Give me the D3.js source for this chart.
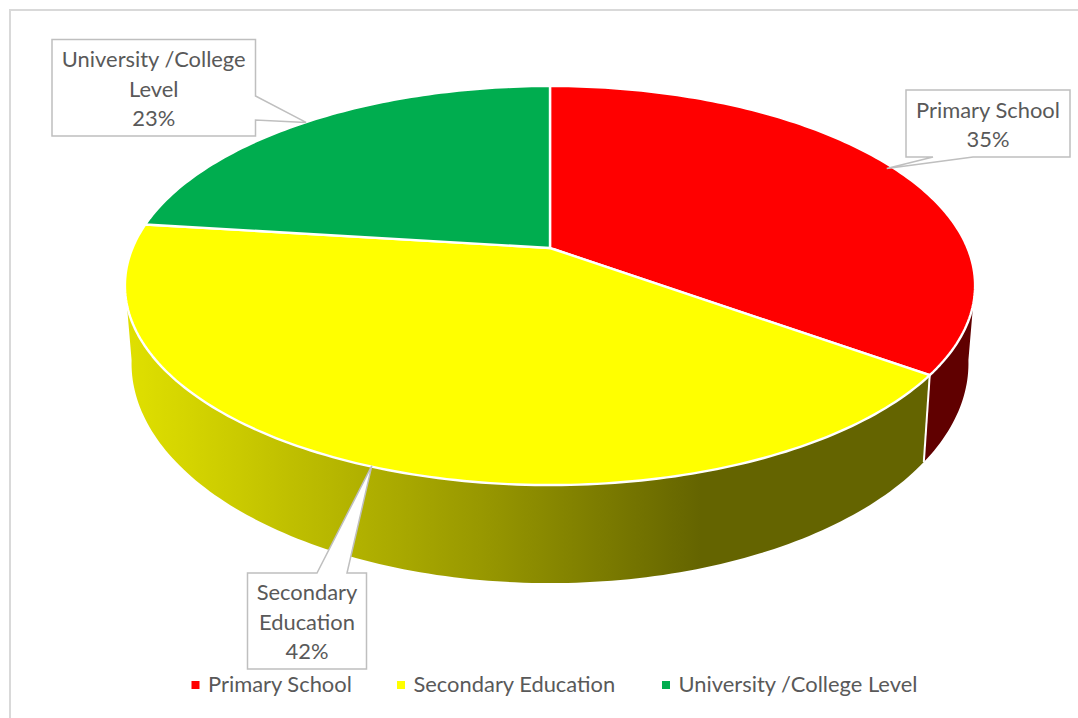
<!DOCTYPE html>
<html>
<head>
<meta charset="utf-8">
<script src="https://cdn.jsdelivr.net/npm/d3@7"></script>
<style>
html,body{margin:0;padding:0;background:#fff;}
svg{display:block;}
text{font-family:Lato,"Open Sans",sans-serif;fill:#595959;}
</style>
</head>
<body>
<div id="chart"></div>
<script>
// Education level shares
const categories = ["Primary School", "Secondary Education", "University /College Level"];
const shares = [35, 42, 23];
const colors = ["#ff0000", "#ffff00", "#00ad4f"];
const sideColors = ["#600000", "url(#sideYellow)", "#005828"];
// Each data label wraps onto these lines above its percentage
const labelLines = [["Primary School"], ["Secondary", "Education"], ["University /College", "Level"]];

const W = 1078, H = 718;
const svg = d3.select("#chart").append("svg").attr("width", W).attr("height", H);

// Shading along the curved wall of the yellow slice
const grad = svg.append("defs").append("linearGradient")
  .attr("id", "sideYellow").attr("gradientUnits", "userSpaceOnUse")
  .attr("x1", 126).attr("x2", 925).attr("y1", 0).attr("y2", 0);
[[0, "#e0e000"], [0.08, "#d4d400"], [0.45, "#979700"], [0.72, "#646400"], [1, "#646400"]]
  .forEach(([o, c]) => grad.append("stop").attr("offset", o).attr("stop-color", c));

// Chart frame: only the top and left edges fall inside the page
svg.append("path").attr("d", `M10,${H}V10H${W}`)
  .attr("fill", "none").attr("stroke", "#d9d9d9").attr("stroke-width", 2);

// Perspective projection of a disc: angle (clockwise from 12 o'clock) to screen
const persp = 0.188;
const project = (plane) => (theta) => {
  const X = Math.sin(theta), Y = Math.cos(theta), d = 1 + persp * Y;
  return [plane.cx + plane.a * X / d, plane.cy - plane.b * Y / d];
};
const topPlane = {cx: 550, cy: 248, a: 417.5, b: 192.5};
const topRim = project(topPlane);
const lowRim = project({cx: 550, cy: 322, a: 411, b: 212});

const pie = d3.pie().sort(null).value(d => d)
  .startAngle(0).endAngle(2 * Math.PI);
const arcs = pie(shares);
const line = d3.line();
const rad = d3.scaleLinear().domain([0, 180]).range([0, Math.PI]);
const sweep = (a0, a1) => {
  const n = Math.max(2, Math.ceil((a1 - a0) / rad(1)));
  return d3.range(n + 1).map(i => a0 + (a1 - a0) * i / n);
};

// Walls: only the part of the rim that faces the viewer
const wallFrom = rad(100), wallTo = rad(260);
const walls = svg.append("g");
arcs.forEach((s, i) => {
  const a0 = Math.max(s.startAngle, wallFrom), a1 = Math.min(s.endAngle, wallTo);
  if (a1 <= a0) return;
  const ts = sweep(a0, a1);
  const pts = ts.map(topRim).concat(ts.slice().reverse().map(lowRim));
  walls.append("path").attr("d", line(pts) + "Z").attr("fill", sideColors[i]);
});
// Seam between the walls of neighbouring slices
arcs.forEach(s => {
  if (s.startAngle > wallFrom && s.startAngle < wallTo) {
    walls.append("path").attr("d", line([topRim(s.startAngle), lowRim(s.startAngle)]))
      .attr("stroke", "#fff").attr("stroke-width", 2).attr("fill", "none");
  }
});

// Top face of every slice
const apex = [topPlane.cx, topPlane.cy];
svg.append("g").selectAll("path").data(arcs).join("path")
  .attr("d", s => line([apex, ...sweep(s.startAngle, s.endAngle).map(topRim)]) + "Z")
  .attr("fill", (s, i) => colors[i])
  .attr("stroke", "#fff").attr("stroke-width", 2.4).attr("stroke-linejoin", "round");

// Callout boxes with a tail running to the rim of each slice
const boxes = [
  {x0: 906, y0: 90, x1: 1070, y1: 157, side: "bottom", t0: 933, t1: 973, nudge: -6},
  {x0: 247.5, y0: 573, x1: 366.5, y1: 669, side: "top", t0: 317, t1: 347, nudge: 8},
  {x0: 52, y0: 39.5, x1: 255.5, y1: 136, side: "right", t0: 96, t1: 120, nudge: -2}
];
const lineHeight = 29.3, labelSize = 21.9;
const callouts = svg.append("g");
arcs.forEach((s, i) => {
  const b = boxes[i], rim = topRim((s.startAngle + s.endAngle) / 2);
  const tip = [rim[0] + b.nudge, rim[1] + 1];
  let pts;
  if (b.side === "bottom") {
    pts = [[b.x0, b.y0], [b.x1, b.y0], [b.x1, b.y1], [b.t1, b.y1], tip, [b.t0, b.y1], [b.x0, b.y1]];
  } else if (b.side === "top") {
    pts = [[b.x0, b.y0], [b.t0, b.y0], tip, [b.t1, b.y0], [b.x1, b.y0], [b.x1, b.y1], [b.x0, b.y1]];
  } else {
    pts = [[b.x0, b.y0], [b.x1, b.y0], [b.x1, b.t0], tip, [b.x1, b.t1], [b.x1, b.y1], [b.x0, b.y1]];
  }
  callouts.append("path").attr("d", line(pts) + "Z")
    .attr("fill", "#fff").attr("stroke", "#bfbfbf").attr("stroke-width", 1.5);
  const rows = labelLines[i].concat(shares[i] + "%");
  const top = (b.y0 + b.y1) / 2 - lineHeight * rows.length / 2;
  const t = callouts.append("text").attr("text-anchor", "middle").attr("font-size", labelSize);
  rows.forEach((r, k) => t.append("tspan")
    .attr("x", (b.x0 + b.x1) / 2)
    .attr("y", top + lineHeight * (k + 0.8)).text(r));
});

// Legend along the bottom
const legendX = [191.5, 397, 662], legendY = 685;
const legend = svg.append("g");
categories.forEach((c, i) => {
  legend.append("rect").attr("x", legendX[i]).attr("y", legendY - 4)
    .attr("width", 8).attr("height", 8).attr("fill", colors[i]);
  legend.append("text").attr("x", legendX[i] + 16.5).attr("y", legendY + 6.5)
    .attr("font-size", labelSize).text(c);
});
</script>
</body>
</html>
